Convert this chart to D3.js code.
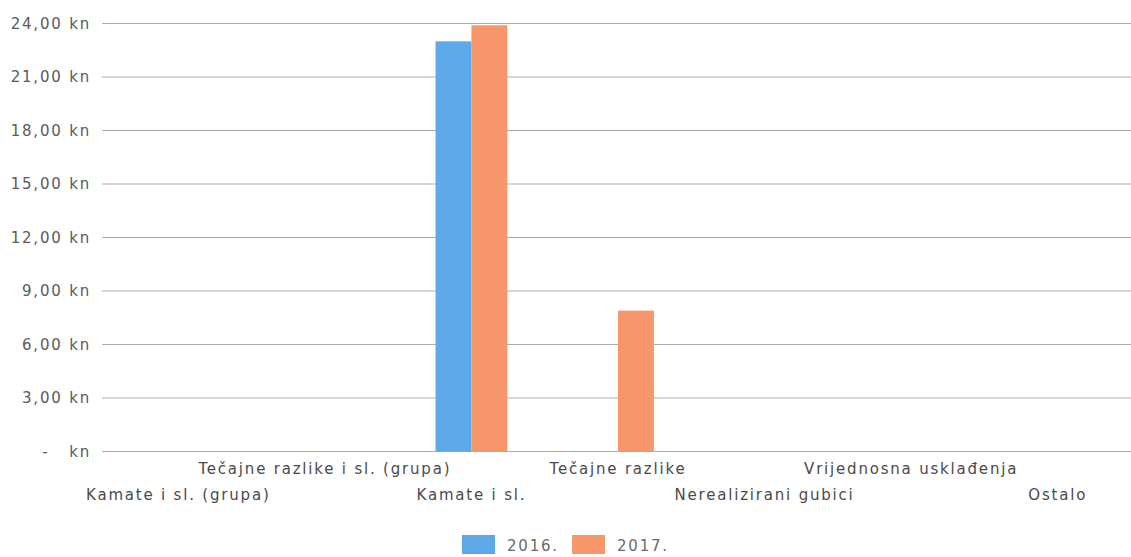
<!DOCTYPE html>
<html>
<head>
<meta charset="utf-8">
<script src="https://cdn.jsdelivr.net/npm/d3@7"></script>
<style>
  body { margin: 0; background: #fff; }
  text { font-family: "DejaVu Sans", Verdana, sans-serif; }
</style>
</head>
<body>
<div id="chart"></div>
<script>
// chart size and plot margins
var width = 1131,
    height = 557;

var margin = { top: 23.5, right: 0, bottom: 105.5, left: 105 };

// data
var categories = ["Kamate i sl. (grupa)", "Tečajne razlike i sl. (grupa)", "Kamate i sl.",
                  "Tečajne razlike", "Nerealizirani gubici", "Vrijednosna usklađenja", "Ostalo"];
var years = ["2016.", "2017."];
var values2016 = [0, 0, 23.0, 0, 0, 0, 0];
var values2017 = [0, 0, 23.9, 7.9, 0, 0, 0];
var yTicks = [0, 3, 6, 9, 12, 15, 18, 21, 24];

var color = d3.scaleOrdinal().domain(years).range(["#5ea9ea", "#f6966a"]);

var svg = d3.select("#chart")
    .append("svg")
    .attr("width", width)
    .attr("height", height);

var x0 = d3.scaleBand()
    .domain(categories)
    .range([margin.left, width - margin.right])
    .paddingInner(0.51)
    .paddingOuter(0.255);

var x1 = d3.scaleBand()
    .domain(years)
    .range([0, x0.bandwidth()]);

var y = d3.scaleLinear()
    .domain([0, 24])
    .range([height - margin.bottom, margin.top]);

// number format like "24,00 kn", zero shown as "-  kn"
function fmt(d) {
    if (d === 0) return "-   kn";
    return d3.format(".2f")(d).replace(".", ",") + " kn";
}

// gridlines + y labels
var grid = svg.append("g");
grid.selectAll("line")
    .data(yTicks)
    .enter().append("line")
    .attr("x1", 102)
    .attr("x2", width)
    .attr("y1", function(d) { return y(d); })
    .attr("y2", function(d) { return y(d); })
    .attr("stroke", "#ababab")
    .attr("stroke-width", 1);

grid.selectAll("text")
    .data(yTicks)
    .enter().append("text")
    .attr("x", 91)
    .attr("y", function(d) { return y(d); })
    .attr("dy", "0.35em")
    .attr("text-anchor", "end")
    .attr("font-size", "15px")
    .attr("letter-spacing", "1.8px")
    .style("white-space", "pre")
    .attr("fill", "#5a5a5a")
    .text(fmt);

// bars
var rows = categories.map(function(c, i) {
    return { cat: c, vals: [values2016[i], values2017[i]] };
});

var groups = svg.selectAll(".grp")
    .data(rows)
    .enter().append("g")
    .attr("class", "grp")
    .attr("transform", function(d) { return "translate(" + x0(d.cat) + ",0)"; });

groups.selectAll("rect")
    .data(function(d) { return years.map(function(yr, j) { return { yr: yr, v: d.vals[j] }; }); })
    .enter().append("rect")
    .filter(function(d) { return d.v > 0; })
    .attr("x", function(d) { return x1(d.yr); })
    .attr("y", function(d) { return y(d.v); })
    .attr("width", x1.bandwidth())
    .attr("height", function(d) { return y(0) - y(d.v); })
    .attr("fill", function(d) { return color(d.yr); });

// category labels, staggered in two rows
svg.selectAll(".cat")
    .data(categories)
    .enter().append("text")
    .attr("class", "cat")
    .attr("x", function(d) { return x0(d) + x0.bandwidth() / 2; })
    .attr("y", function(d, i) { return i % 2 === 1 ? 474 : 500; })
    .attr("text-anchor", "middle")
    .attr("font-size", "15px")
    .attr("letter-spacing", "1.8px")
    .attr("fill", "#4a4a4a")
    .text(function(d) { return d; });

// legend
var legend = svg.selectAll(".legend")
    .data(years)
    .enter().append("g")
    .attr("class", "legend")
    .attr("transform", function(d, i) { return "translate(" + (462 + i * 110) + ",535)"; });

legend.append("rect")
    .attr("width", 33)
    .attr("height", 19)
    .attr("fill", function(d) { return color(d); });

legend.append("text")
    .attr("x", 45)
    .attr("y", 16)
    .attr("font-size", "15px")
    .attr("letter-spacing", "1.8px")
    .attr("fill", "#6a6a6a")
    .text(function(d) { return d; });
</script>
</body>
</html>
